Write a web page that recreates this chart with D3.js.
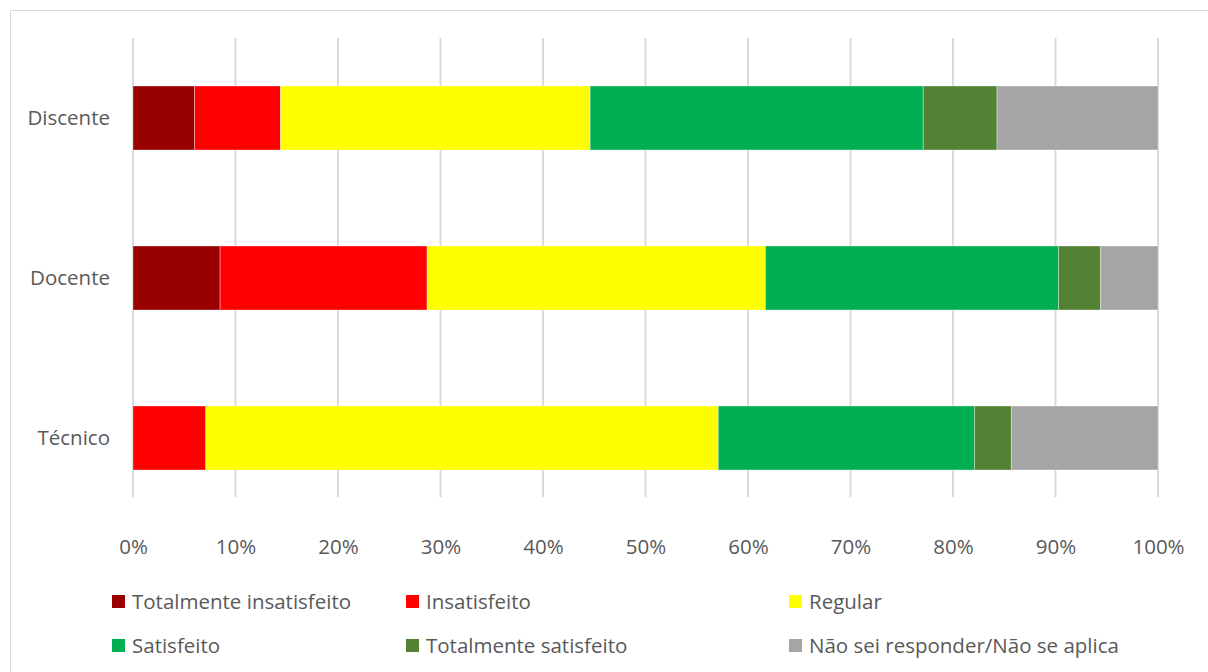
<!DOCTYPE html>
<html><head><meta charset="utf-8">
<script src="https://cdn.jsdelivr.net/npm/d3@7"></script>
<style>body{margin:0;background:#fff}svg{display:block}text{font-family:"Open Sans","Noto Sans",sans-serif}</style>
</head><body><svg id="c" width="1208" height="672"></svg>
<script>
const categories = ["Discente","Docente","Técnico"];
const seriesNames = ["Totalmente insatisfeito","Insatisfeito","Regular","Satisfeito","Totalmente satisfeito","Não sei responder/Não se aplica"];
const colors = ["#990000","#ff0000","#ffff00","#00b050","#548235","#a5a5a5"];
const totalmenteInsatisfeito = [6.0, 8.5, 0];
const insatisfeito = [8.4, 20.2, 7.1];
const regular = [30.2, 33.0, 50.0];
const satisfeito = [32.5, 28.6, 25.0];
const totalmenteSatisfeito = [7.2, 4.1, 3.6];
const naoSei = [15.7, 5.6, 14.3];
const tickValues = [0,10,20,30,40,50,60,70,80,90,100];
const seriesValues = [totalmenteInsatisfeito, insatisfeito, regular, satisfeito, totalmenteSatisfeito, naoSei];

const FONT = '"Open Sans","Noto Sans",sans-serif';
const FS = "20.5px";
const svg = d3.select("#c");
svg.append("rect").attr("x",10.5).attr("y",10.5).attr("width",1210).attr("height",680)
  .attr("fill","none").attr("stroke","#d9d9d9");

const x = d3.scaleLinear().domain([0,100]).range([133,1158]);
const y = d3.scaleBand().domain(categories).range([38,518]).paddingInner(0.6).paddingOuter(0.3);

svg.append("g").selectAll("line").data(tickValues).join("line")
  .attr("x1",d=>x(d)).attr("x2",d=>x(d)).attr("y1",38).attr("y2",497)
  .attr("stroke","#d9d9d9").attr("stroke-width",2);

const rows = categories.map((c,i)=>{const o={cat:c}; seriesNames.forEach((s,j)=>o[s]=seriesValues[j][i]); return o;});
const stack = d3.stack().keys(seriesNames)(rows);
const bh = 64;
svg.append("g").selectAll("g").data(stack).join("g")
  .attr("fill",(d,i)=>colors[i])
  .selectAll("rect").data(d=>d).join("rect")
  .attr("x",d=>x(d[0])).attr("width",d=>x(d[1])-x(d[0]))
  .attr("y",d=>y(d.data.cat)+y.bandwidth()/2-bh/2).attr("height",bh)
  .attr("stroke","#ffffff").attr("stroke-opacity",0.35).attr("stroke-width",1);

const xa = d3.axisBottom(x).tickValues(tickValues).tickFormat(d=>d+"%").tickSize(0);
const gx = svg.append("g").attr("transform","translate(0,536)").call(xa);
gx.attr("font-family",FONT).attr("font-size",FS);
gx.select(".domain").remove();
gx.selectAll("text").attr("fill","#595959");

const ya = d3.axisLeft(y).tickSize(0).tickPadding(0);
const gy = svg.append("g").attr("transform","translate(110,0)").call(ya);
gy.attr("font-family",FONT).attr("font-size",FS);
gy.select(".domain").remove();
gy.selectAll("text").attr("fill","#595959");

const legX = [112,406,789], legY = [602,646];
const lg = svg.append("g").attr("font-family",FONT).attr("font-size",FS)
  .selectAll("g").data(seriesNames).join("g")
  .attr("transform",(d,i)=>`translate(${legX[i%3]},${legY[Math.floor(i/3)]})`);
lg.append("rect").attr("x",0).attr("y",-7).attr("width",13).attr("height",13).attr("fill",(d,i)=>colors[i]);
lg.append("text").attr("x",20).attr("y",0).attr("dy","0.35em").attr("fill","#595959").text(d=>d);
</script></body></html>
